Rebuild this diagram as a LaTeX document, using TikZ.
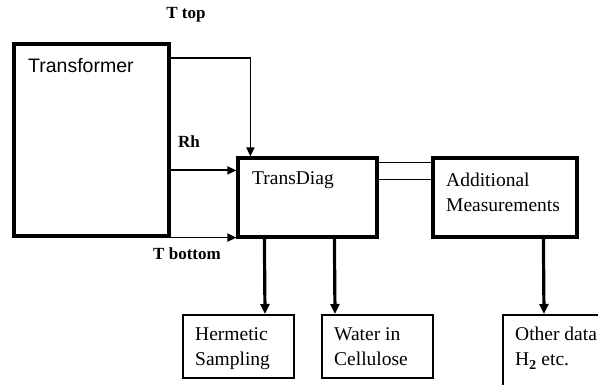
\documentclass[tikz,border=0pt]{standalone}
\usepackage{fontspec}
\setmainfont{Liberation Serif}
\setsansfont{Liberation Sans}
\usepackage{tikz}
\usetikzlibrary{positioning,calc,arrows.meta}

\begin{document}
\begin{tikzpicture}[
        x=1pt, y=-1pt,
        every node/.style={font=\fontsize{19.5}{25}\selectfont},
        bigbox/.style={rectangle, draw=black, line width=3.2pt, inner sep=0pt},
        smallbox/.style={rectangle, draw=black, line width=2pt, inner sep=0pt, minimum width=111pt, minimum height=63pt},
        boxtext/.style={anchor=base west, inner sep=0pt, align=left},
        signal/.style={-{Triangle[length=9pt,width=8pt]}, line width=1.8pt, draw=black},
        result/.style={-{Triangle[length=10pt,width=9pt]}, line width=3.2pt, draw=black},
        tag/.style={font=\fontsize{17}{20}\selectfont\bfseries, inner sep=0pt}
        ]

        % Frame of the picture, cut at the page edge
        \useasboundingbox (0,0) rectangle (598,385);
        \clip (0,0) rectangle (598,385);

        % Main boxes
        \node[bigbox, minimum width=155pt, minimum height=192pt] (trafo) at (91.5,140) {};
        \node[bigbox, minimum width=139pt, minimum height=79pt] (diag) at (307.5,197.5) {};
        \node[bigbox, minimum width=144pt, minimum height=79pt] (addm) at (505,197.5) {};

        % Result boxes
        \node[smallbox] (herm) at (238.5,346.5) {};
        \node[smallbox] (water) at (377.5,346.5) {};
        \node[smallbox, minimum height=90pt] (other) at (558.5,360) {};

        % Box texts (base west = baseline of the last line)
        \node[boxtext, font=\sffamily\fontsize{19.5}{25}\selectfont] (trafotext) at (28,73) {Transformer};
        \node[boxtext] (diagtext) at (252,185) {TransDiag};
        \node[boxtext] (addmtext) at (446,212) {Additional\\Measurements};
        \node[boxtext] (hermtext) at (195,366) {Hermetic\\Sampling};
        \node[boxtext] (watertext) at (334,366) {Water in\\Cellulose};
        \node[boxtext] (othertext) at (515,366) {Other data\\H\textsubscript{\textbf{2}} etc.};

        % Signals from the transformer
        \draw[signal] ([yshift=-16pt]trafo.north east) -| ([xshift=14pt]diag.north west);
        \draw[signal] ([yshift=-128pt]trafo.north east) -- ([yshift=-14pt]diag.north west);
        \draw[signal] (trafo.south east) -- (trafo.south east -| diag.west);
        \node[tag] (ttop) at (186,15) {T top};
        \node[tag] (rh) at (189,142) {Rh};
        \node[tag] (tbottom) at (187,254) {T bottom};

        % Link to the additional measurements
        \draw[line width=0.9pt] ([yshift=-6pt]diag.north east) -- ([yshift=-6pt]addm.north west);
        \draw[line width=0.9pt] ([yshift=-23pt]diag.north east) -- ([yshift=-23pt]addm.north west);

        % Results
        \draw[result] ([xshift=28pt]diag.south west) -- ([xshift=83pt]herm.north west);
        \draw[result] ([xshift=98pt]diag.south west) -- ([xshift=14pt]water.north west);
        \draw[result] ([xshift=112pt]addm.south west) -- ([xshift=42pt]other.north west);

    \end{tikzpicture}
\end{document}
